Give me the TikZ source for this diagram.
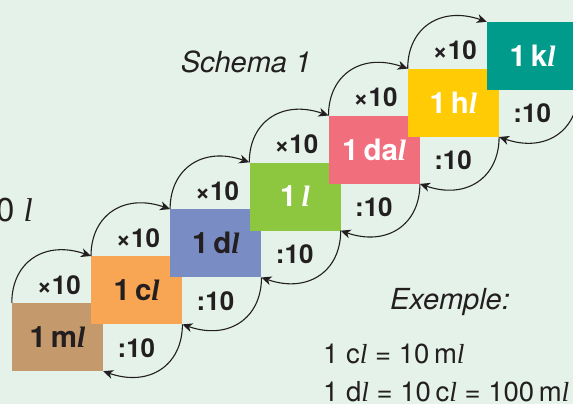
\documentclass[tikz,border=0pt]{standalone}
\usepackage{fontspec}
\setmainfont{TeX Gyre Heros}
\newfontfamily\serf{Liberation Serif}
\usetikzlibrary{arrows.meta}
\newcommand{\li}{{\serf\itshape l}}
\newcommand{\lb}{{\serf\bfseries\itshape l}}
\definecolor{bg}{RGB}{228,242,234}
\definecolor{ink}{RGB}{35,31,32}
\definecolor{cml}{RGB}{196,154,108}
\definecolor{ccl}{RGB}{248,166,83}
\definecolor{cdl}{RGB}{122,140,196}
\definecolor{cL}{RGB}{141,198,63}
\definecolor{cdal}{RGB}{241,110,125}
\definecolor{chl}{RGB}{255,203,5}
\definecolor{ckl}{RGB}{0,155,138}
\tikzset{
  unit/.style={minimum width=91pt, minimum height=68pt, inner sep=0pt,
    font=\fontsize{29.5}{32}\selectfont\bfseries},
  darktxt/.style={text=ink},
  lighttxt/.style={text=white},
  lab/.style={inner sep=0pt, text=ink, font=\fontsize{26}{28}\selectfont\bfseries},
  arc/.style={draw=ink, line width=1.1pt, -{Stealth[length=10pt,width=9pt,inset=3pt]}},
  plain/.style={inner sep=0pt, text=ink}
}
\begin{document}
\begin{tikzpicture}[x=1pt,y=-1pt]
\useasboundingbox (0,0) rectangle (573,404);
\fill[bg] (0,0) rectangle (573,404);
\clip (0,0) rectangle (573,404);

\node[unit, fill=cml, darktxt] (ml) at (57.5,337) {1\,m\lb};
\node[unit, fill=ccl, darktxt] (cl) at (136.7,290.2) {1\,c\lb};
\node[unit, fill=cdl, darktxt] (dl) at (215.8,243.3) {1\,d\lb};
\node[unit, fill=cL, lighttxt] (L) at (295.0,196.5) {1\,\lb};
\node[unit, fill=cdal, lighttxt] (dal) at (374.2,149.7) {1\,da\lb};
\node[unit, fill=chl, lighttxt] (hl) at (453.4,102.8) {1\,h\lb};
\node[unit, fill=ckl, lighttxt] (kl) at (532.5,56.0) {1\,k\lb};

\foreach \a/\b/\n in {ml/cl/1, cl/dl/2, dl/L/3, L/dal/4, dal/hl/5, hl/kl/6}{
  \draw[arc] (\a.north west) .. controls +(0,-41) and +(-46,-16) .. (\b.north west);
  \draw[arc] (\b.south east) .. controls +(0,41) and +(46,16) .. (\a.south east);
  \node[lab] (up\n) at ([shift={(47,-18)}]\a.north west) {×10};
  \node[lab] (dn\n) at ([shift={(-46,23.5)}]\b.south east) {:10};
}

\node[plain, font=\fontsize{29}{32}\selectfont\itshape] (schema) at (246,62) {Schema 1};
\node[plain, font=\fontsize{33}{36}\selectfont, anchor=base east] (cut) at (33,221) {0 \li};
\node[plain, font=\fontsize{29}{32}\selectfont\itshape] (ex) at (450,302) {Exemple:};
\node[plain, font=\fontsize{27.5}{30}\selectfont, anchor=base west] (eq1) at (323,363) {1 c\li{} = 10\,m\li};
\node[plain, font=\fontsize{27.5}{30}\selectfont, anchor=base west] (eq2) at (323,401) {1 d\li{} = 10\,c\li{} = 100\,m\li};
\end{tikzpicture}
\end{document}
